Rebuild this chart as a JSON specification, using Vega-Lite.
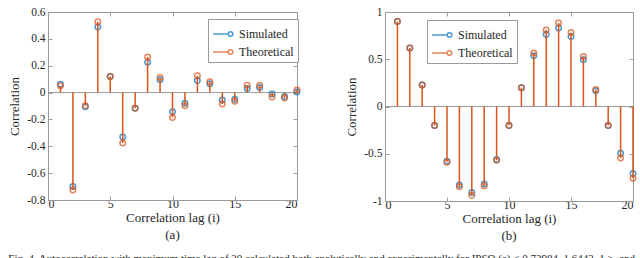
{
  "$schema": "https://vega.github.io/schema/vega-lite/v6.json",
  "padding": {"left": 8, "top": 5, "right": 5, "bottom": 0},
  "background": "white",
  "datasets": {
    "a": [
      {"lag":1,"series":"Simulated","value":0.0625},{"lag":2,"series":"Simulated","value":-0.70},{"lag":3,"series":"Simulated","value":-0.105},{"lag":4,"series":"Simulated","value":0.4875},{"lag":5,"series":"Simulated","value":0.12},
      {"lag":6,"series":"Simulated","value":-0.33},{"lag":7,"series":"Simulated","value":-0.1175},{"lag":8,"series":"Simulated","value":0.225},{"lag":9,"series":"Simulated","value":0.095},{"lag":10,"series":"Simulated","value":-0.1425},
      {"lag":11,"series":"Simulated","value":-0.08},{"lag":12,"series":"Simulated","value":0.09},{"lag":13,"series":"Simulated","value":0.065},{"lag":14,"series":"Simulated","value":-0.055},{"lag":15,"series":"Simulated","value":-0.05},
      {"lag":16,"series":"Simulated","value":0.03},{"lag":17,"series":"Simulated","value":0.0375},{"lag":18,"series":"Simulated","value":-0.01},{"lag":19,"series":"Simulated","value":-0.03},{"lag":20,"series":"Simulated","value":0.005},
      {"lag":1,"series":"Theoretical","value":0.05},{"lag":2,"series":"Theoretical","value":-0.725},{"lag":3,"series":"Theoretical","value":-0.0975},{"lag":4,"series":"Theoretical","value":0.5275},{"lag":5,"series":"Theoretical","value":0.12},
      {"lag":6,"series":"Theoretical","value":-0.375},{"lag":7,"series":"Theoretical","value":-0.1175},{"lag":8,"series":"Theoretical","value":0.265},{"lag":9,"series":"Theoretical","value":0.1125},{"lag":10,"series":"Theoretical","value":-0.185},
      {"lag":11,"series":"Theoretical","value":-0.0975},{"lag":12,"series":"Theoretical","value":0.125},{"lag":13,"series":"Theoretical","value":0.08},{"lag":14,"series":"Theoretical","value":-0.085},{"lag":15,"series":"Theoretical","value":-0.065},
      {"lag":16,"series":"Theoretical","value":0.055},{"lag":17,"series":"Theoretical","value":0.055},{"lag":18,"series":"Theoretical","value":-0.0325},{"lag":19,"series":"Theoretical","value":-0.04},{"lag":20,"series":"Theoretical","value":0.02}
    ],
    "b": [
      {"lag":1,"series":"Simulated","value":0.90},{"lag":2,"series":"Simulated","value":0.62},{"lag":3,"series":"Simulated","value":0.227},{"lag":4,"series":"Simulated","value":-0.202},{"lag":5,"series":"Simulated","value":-0.58},
      {"lag":6,"series":"Simulated","value":-0.83},{"lag":7,"series":"Simulated","value":-0.91},{"lag":8,"series":"Simulated","value":-0.82},{"lag":9,"series":"Simulated","value":-0.56},{"lag":10,"series":"Simulated","value":-0.202},
      {"lag":11,"series":"Simulated","value":0.199},{"lag":12,"series":"Simulated","value":0.536},{"lag":13,"series":"Simulated","value":0.762},{"lag":14,"series":"Simulated","value":0.83},{"lag":15,"series":"Simulated","value":0.74},
      {"lag":16,"series":"Simulated","value":0.496},{"lag":17,"series":"Simulated","value":0.167},{"lag":18,"series":"Simulated","value":-0.2},{"lag":19,"series":"Simulated","value":-0.495},{"lag":20,"series":"Simulated","value":-0.71},
      {"lag":1,"series":"Theoretical","value":0.90},{"lag":2,"series":"Theoretical","value":0.62},{"lag":3,"series":"Theoretical","value":0.227},{"lag":4,"series":"Theoretical","value":-0.202},{"lag":5,"series":"Theoretical","value":-0.59},
      {"lag":6,"series":"Theoretical","value":-0.85},{"lag":7,"series":"Theoretical","value":-0.94},{"lag":8,"series":"Theoretical","value":-0.84},{"lag":9,"series":"Theoretical","value":-0.57},{"lag":10,"series":"Theoretical","value":-0.202},
      {"lag":11,"series":"Theoretical","value":0.199},{"lag":12,"series":"Theoretical","value":0.567},{"lag":13,"series":"Theoretical","value":0.81},{"lag":14,"series":"Theoretical","value":0.883},{"lag":15,"series":"Theoretical","value":0.784},
      {"lag":16,"series":"Theoretical","value":0.53},{"lag":17,"series":"Theoretical","value":0.18},{"lag":18,"series":"Theoretical","value":-0.2},{"lag":19,"series":"Theoretical","value":-0.545},{"lag":20,"series":"Theoretical","value":-0.76}
    ]
  },
  "config": {
    "font": "Liberation Serif",
    "view": {"stroke": "#9a9a9a", "strokeWidth": 1},
    "axis": {
      "labelFont": "Liberation Serif", "titleFont": "Liberation Serif",
      "labelFontSize": 11.5, "titleFontSize": 13, "titleFontWeight": "normal",
      "labelColor": "#262626", "titleColor": "#262626",
      "domainColor": "#9a9a9a", "tickColor": "#9a9a9a", "grid": false, "tickSize": -4
    },
    "axisX": {"labelPadding": 2, "titlePadding": 2, "labelFontSize": 12},
    "axisY": {"labelPadding": 7, "titlePadding": 5},
    "legend": {
      "labelFont": "Liberation Serif", "labelFontSize": 12, "labelColor": "#262626",
      "strokeColor": "#9a9a9a", "fillColor": "white", "padding": 4, "rowPadding": 1,
      "symbolType": "M-1,0H0.52M0.98,0A0.23,0.23,0,1,1,0.52,0A0.23,0.23,0,1,1,0.98,0",
      "symbolSize": 400, "symbolStrokeWidth": 1.5, "symbolFillColor": "transparent", "labelOffset": 5
    },
    "title": {"font": "Liberation Serif", "fontWeight": "normal", "color": "#262626"},
    "concat": {"spacing": 41}
  },
  "title": {
    "text": "Fig. 4.  Autocorrelation with maximum time lag of 20 calculated both analytically and experimentally for IPSO (a) < 0.73984, 1.6443, 1 >, and",
    "orient": "bottom", "anchor": "start", "fontSize": 11, "offset": 9
  },
  "resolve": {"scale": {"stroke": "independent"}, "legend": {"stroke": "independent"}},
  "hconcat": [
    {
      "width": 249, "height": 188,
      "data": {"name": "a"},
      "title": {"text": "(a)", "orient": "bottom", "fontSize": 13, "offset": 5},
      "resolve": {"axis": {"x": "independent", "y": "independent"}},
      "layer": [
        {
          "data": {"values": [{"z": 0}]},
          "mark": {"type": "rule", "color": "#9a9a9a", "strokeWidth": 1},
          "encoding": {"y": {"field": "z", "type": "quantitative", "axis": null}}
        },
        {
          "transform": [{"filter": "datum.series == 'Simulated'"}],
          "mark": {"type": "point", "filled": false, "strokeWidth": 1.5, "size": 30},
          "encoding": {
            "x": {"field": "lag", "type": "quantitative", "scale": {"domain": [0, 20]}, "axis": {"values": [0, 5, 10, 15, 20], "title": "Correlation lag (i)"}},
            "y": {"field": "value", "type": "quantitative", "scale": {"domain": [-0.8, 0.6]}, "axis": {"values": [-0.8, -0.6, -0.4, -0.2, 0, 0.2, 0.4, 0.6], "title": "Correlation", "labelExpr": "toString(round(datum.value*10)/10)"}},
            "stroke": {"field": "series", "type": "nominal", "scale": {"domain": ["Simulated", "Theoretical"], "range": ["#0072BD", "#D95319"]}, "legend": {"orient": "none", "legendX": 160, "legendY": 7, "title": null}}
          }
        },
        {
          "transform": [{"filter": "datum.series == 'Theoretical'"}],
          "mark": {"type": "rule", "strokeWidth": 1.5},
          "encoding": {
            "x": {"field": "lag", "type": "quantitative", "axis": {"orient": "top", "values": [0, 5, 10, 15, 20], "labels": false, "domain": false, "title": null}},
            "y": {"field": "value", "type": "quantitative", "axis": {"orient": "right", "values": [-0.8, -0.6, -0.4, -0.2, 0, 0.2, 0.4, 0.6], "labels": false, "domain": false, "title": null}},
            "y2": {"datum": 0},
            "stroke": {"field": "series", "type": "nominal", "scale": {"domain": ["Simulated", "Theoretical"], "range": ["#0072BD", "#D95319"]}, "legend": {"orient": "none", "legendX": 160, "legendY": 7, "title": null}}
          }
        },
        {
          "transform": [{"filter": "datum.series == 'Theoretical'"}],
          "mark": {"type": "point", "filled": false, "strokeWidth": 1.5, "size": 30},
          "encoding": {
            "x": {"field": "lag", "type": "quantitative", "axis": null},
            "y": {"field": "value", "type": "quantitative", "axis": null},
            "stroke": {"field": "series", "type": "nominal", "scale": {"domain": ["Simulated", "Theoretical"], "range": ["#0072BD", "#D95319"]}, "legend": {"orient": "none", "legendX": 160, "legendY": 7, "title": null}}
          }
        }
      ]
    },
    {
      "width": 248, "height": 189,
      "data": {"name": "b"},
      "title": {"text": "(b)", "orient": "bottom", "fontSize": 13, "offset": 5},
      "resolve": {"axis": {"x": "independent", "y": "independent"}},
      "layer": [
        {
          "data": {"values": [{"z": 0}]},
          "mark": {"type": "rule", "color": "#9a9a9a", "strokeWidth": 1},
          "encoding": {"y": {"field": "z", "type": "quantitative", "axis": null}}
        },
        {
          "transform": [{"filter": "datum.series == 'Simulated'"}],
          "mark": {"type": "point", "filled": false, "strokeWidth": 1.5, "size": 30},
          "encoding": {
            "x": {"field": "lag", "type": "quantitative", "scale": {"domain": [0, 20]}, "axis": {"values": [0, 5, 10, 15, 20], "title": "Correlation lag (i)"}},
            "y": {"field": "value", "type": "quantitative", "scale": {"domain": [-1, 1]}, "axis": {"values": [-1, -0.5, 0, 0.5, 1], "title": "Correlation", "labelExpr": "toString(round(datum.value*10)/10)"}},
            "stroke": {"field": "series", "type": "nominal", "scale": {"domain": ["Simulated", "Theoretical"], "range": ["#0072BD", "#D95319"]}, "legend": {"orient": "none", "legendX": 42, "legendY": 8, "title": null}}
          }
        },
        {
          "transform": [{"filter": "datum.series == 'Theoretical'"}],
          "mark": {"type": "rule", "strokeWidth": 1.5},
          "encoding": {
            "x": {"field": "lag", "type": "quantitative", "axis": {"orient": "top", "values": [0, 5, 10, 15, 20], "labels": false, "domain": false, "title": null}},
            "y": {"field": "value", "type": "quantitative", "axis": {"orient": "right", "values": [-1, -0.5, 0, 0.5, 1], "labels": false, "domain": false, "title": null}},
            "y2": {"datum": 0},
            "stroke": {"field": "series", "type": "nominal", "scale": {"domain": ["Simulated", "Theoretical"], "range": ["#0072BD", "#D95319"]}, "legend": {"orient": "none", "legendX": 42, "legendY": 8, "title": null}}
          }
        },
        {
          "transform": [{"filter": "datum.series == 'Theoretical'"}],
          "mark": {"type": "point", "filled": false, "strokeWidth": 1.5, "size": 30},
          "encoding": {
            "x": {"field": "lag", "type": "quantitative", "axis": null},
            "y": {"field": "value", "type": "quantitative", "axis": null},
            "stroke": {"field": "series", "type": "nominal", "scale": {"domain": ["Simulated", "Theoretical"], "range": ["#0072BD", "#D95319"]}, "legend": {"orient": "none", "legendX": 42, "legendY": 8, "title": null}}
          }
        }
      ]
    }
  ]
}
